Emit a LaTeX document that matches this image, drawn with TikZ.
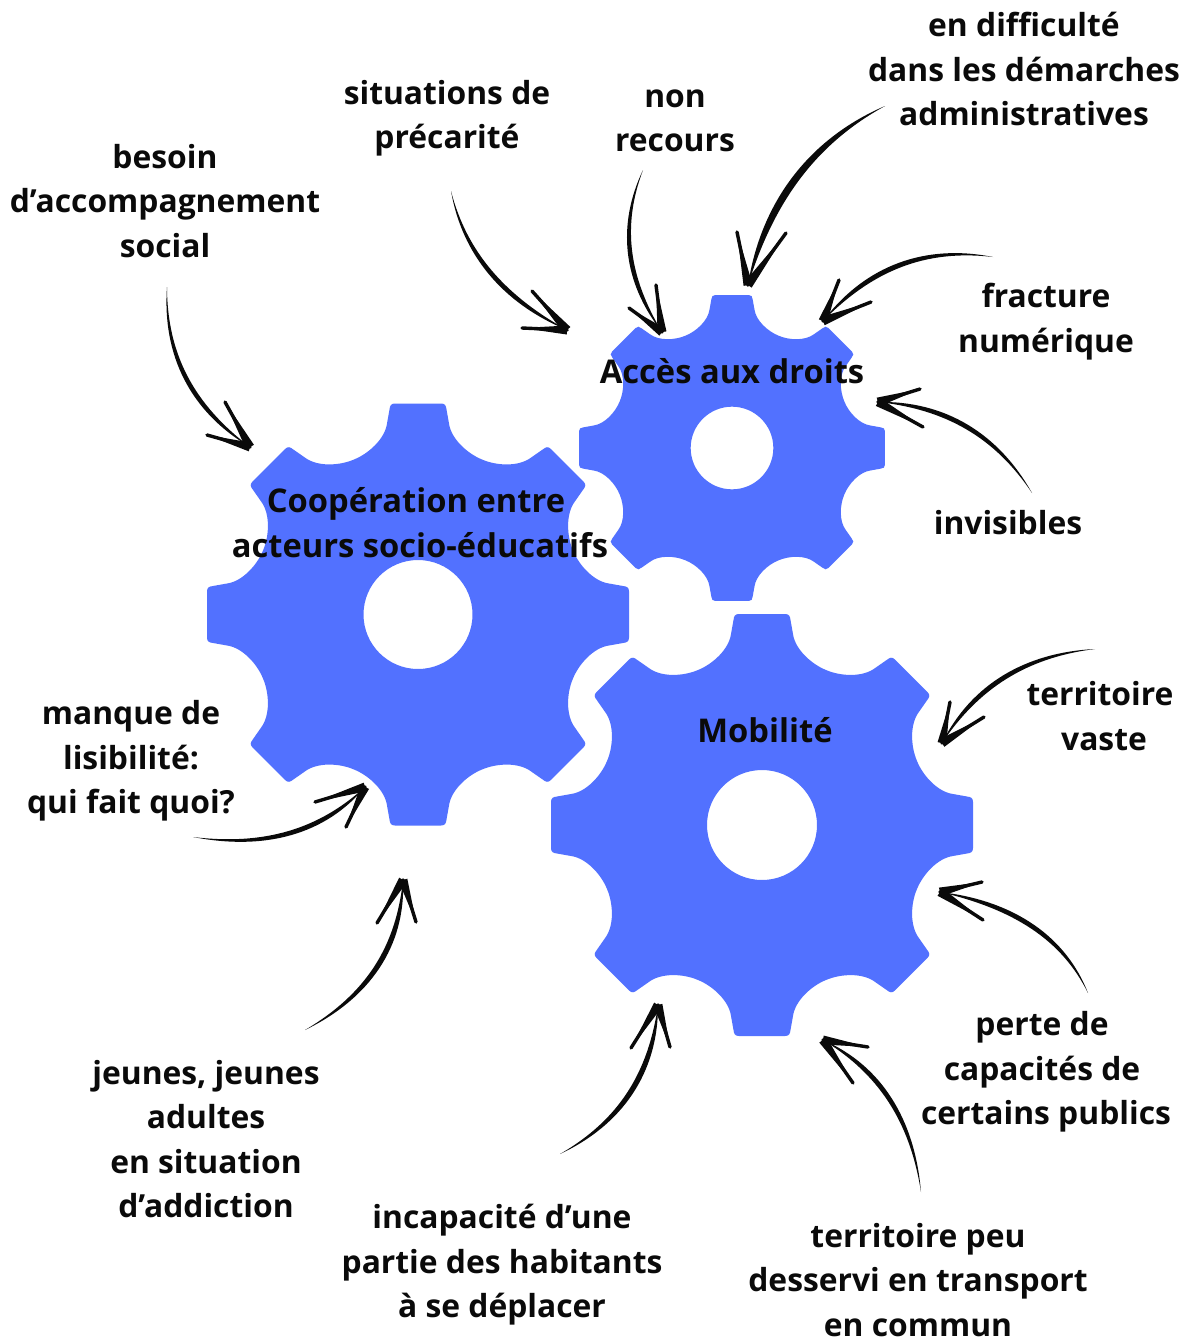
\documentclass[tikz,border=0pt]{standalone}
\usepackage{fontspec}
\setmainfont{Open Sans}
\usetikzlibrary{calc}
\definecolor{gearblue}{HTML}{5271FF}
\definecolor{ink}{HTML}{0A0A0A}
\tikzset{
  lab/.style={font=\bfseries\fontsize{31.8}{44.4}\selectfont, text=ink, align=center, inner sep=0pt},
  gearlab/.style={font=\bfseries\fontsize{32.7}{45}\selectfont, text=ink, align=center, inner sep=0pt},
  gearfill/.style={fill=gearblue, even odd rule},
}
% name, x, y, scale, hole radius
\newcommand\gearshape[5]{%
  \coordinate (#1) at (#2,#3);
  \begin{scope}[shift={(#1)}, scale=#4]
    \fill[gearfill] (-64,155)
      \foreach \a in {0,45,...,315}{
        .. controls ([rotate=\a]-49,161) and ([rotate=\a]-33,176) .. ([rotate=\a]-31,191)
        -- ([rotate=\a]-28.5,205) .. controls ([rotate=\a]-28,209) and ([rotate=\a]-27,211) .. ([rotate=\a]-23,211)
        -- ([rotate=\a]23,211) .. controls ([rotate=\a]27,211) and ([rotate=\a]28,209) .. ([rotate=\a]28.5,205)
        -- ([rotate=\a]31,191) .. controls ([rotate=\a]33,176) and ([rotate=\a]49,161) .. ([rotate=\a]64,155)
      } -- cycle
      (0,0) circle (#5);
  \end{scope}
}
% name, start, middle, end, barb 1, barb 2, half width
\newcommand\handarrow[7]{%
  \coordinate (#1s) at (#2);
  \coordinate (#1m) at (#3);
  \coordinate (#1e) at (#4);
  \coordinate (#1a) at (#5);
  \coordinate (#1b) at (#6);
  \coordinate (#1q) at ($2*(#1m)-0.5*(#1s)-0.5*(#1e)$);
  \coordinate (#1c) at ($(#1s)!.667!(#1q)$);
  \coordinate (#1d) at ($(#1e)!.667!(#1q)$);
  \fill[ink] (#1s)
     .. controls ($(#1c)!0.6*#7!90:(#1q)$) and ($(#1d)!#7!90:(#1e)$) .. (#1e)
     .. controls ($(#1d)!#7!-90:(#1e)$) and ($(#1c)!0.6*#7!-90:(#1q)$) .. (#1s) -- cycle;
  \draw[ink, line width=3.4pt, line cap=round, line join=round] (#1a) -- (#1e) -- (#1b);
  \fill[ink] ($(#1e)!4.5pt!90:(#1a)$) -- (#1a) -- ($(#1e)!4.5pt!-90:(#1a)$) -- cycle;
  \fill[ink] ($(#1e)!4.5pt!90:(#1b)$) -- (#1b) -- ($(#1e)!4.5pt!-90:(#1b)$) -- cycle;
}
\begin{document}
\begin{tikzpicture}[x=1pt,y=-1pt]
  \useasboundingbox (0,0) rectangle (1190,1339);
  \fill[white] (0,0) rectangle (1190,1339);

  \gearshape{gearA}{418}{614.5}{1}{54.5}
  \gearshape{gearB}{732}{448}{0.725}{57}
  \gearshape{gearC}{762}{825}{1}{55}

  \node[gearlab] (acces) at (732,371) {Accès aux droits};
  \node[gearlab] (coop) at (420,522.5) {Coopération entre\kern8pt\mbox{}\\acteurs socio-éducatifs};
  \node[gearlab] (mob) at (765,730) {Mobilité};

  \node[lab] (besoin) at (165,201) {besoin\\d’accompagnement\\social};
  \node[lab] (situ) at (447,118) {situations de\\précarité};
  \node[lab] (nonrec) at (675,121) {non\\recours};
  \node[lab] (diff) at (1024,69) {en difficulté\\dans les démarches\\administratives};
  \node[lab] (fract) at (1046,321.5) {fracture\\numérique};
  \node[lab] (invis) at (1008,523) {invisibles};
  \node[lab] (vaste) at (1100,716) {territoire\\\mbox{}\kern8pt vaste};
  \node[lab] (perte) at (1046,1072) {perte de\kern8pt\mbox{}\\capacités de\kern8pt\mbox{}\\certains publics};
  \node[lab] (peu) at (918,1280) {territoire peu\\desservi en transport\\en commun};
  \node[lab] (incap) at (502,1265) {incapacité d’une\\partie des habitants\\à se déplacer};
  \node[lab] (jeunes) at (206,1139) {jeunes, jeunes\\adultes\\en situation\\d’addiction};
  \node[lab] (manque) at (131,761) {manque de\\lisibilité:\\qui fait quoi?};

  \handarrow{r1}{167,287}{186,378}{250,447}{225,402}{207,435}{4.2pt}
  \handarrow{r2}{451,191}{490,272}{567,330}{532,291}{522,328}{4.2pt}
  \handarrow{r3}{643,170}{630,252}{662,332}{656,285}{629,308}{4.2pt}
  \handarrow{r4}{885,106}{797,177}{748,285}{737,232}{786,233}{6.5pt}
  \handarrow{r5}{993,257}{900,265}{823,321}{839,280}{871,302}{4.6pt}
  \handarrow{r6}{1032,493}{967,427}{878,402}{920,389}{923,427}{4.4pt}
  \handarrow{r7}{1095,649}{1005,677}{942,743}{950,702}{984,717}{4.4pt}
  \handarrow{r8}{1088,993}{1033,927}{940,892}{982,882}{983,920}{4.4pt}
  \handarrow{r9}{921,1192}{890,1100}{823,1040}{868,1047}{853,1083}{4.4pt}
  \handarrow{r10}{560,1154}{630,1093}{658,1005}{631,1048}{670,1047}{5pt}
  \handarrow{r11}{305,1030}{377,967}{403,880}{377,923}{416,922}{5pt}
  \handarrow{r12}{193,837}{290,833}{365,787}{315,802}{346,827}{4.4pt}
\end{tikzpicture}
\end{document}
